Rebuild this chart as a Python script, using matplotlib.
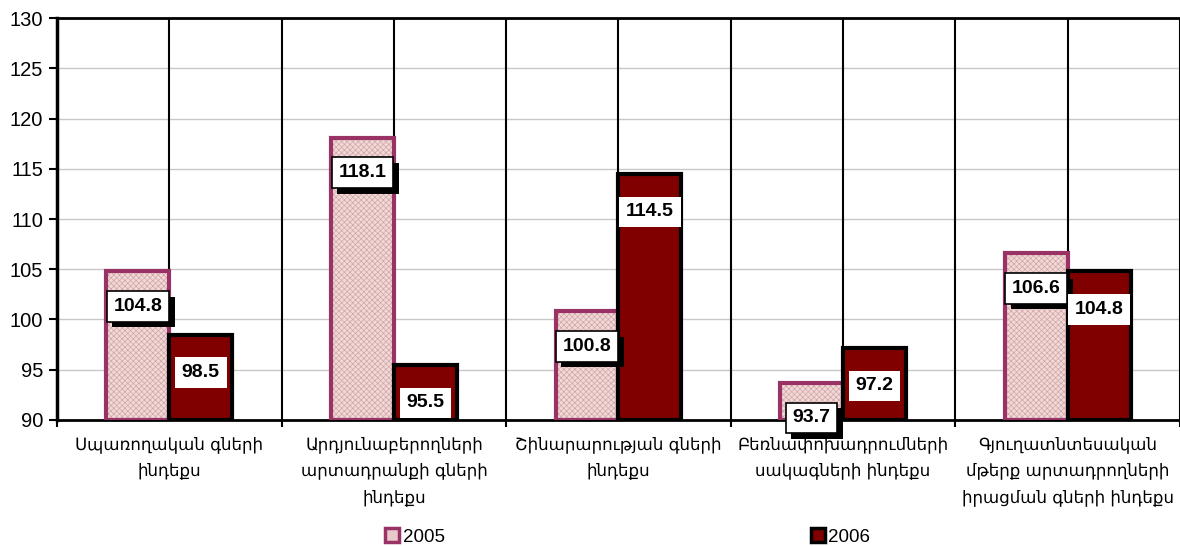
import numpy as np
import matplotlib
matplotlib.use("Agg")
import matplotlib.pyplot as plt
import matplotlib.patheffects as pe
from matplotlib.patches import Patch

categories = [
    "Սպառողական գների\nինդեքս",
    "Արդյունաբերողների\nարտադրանքի գների\nինդեքս",
    "Շինարարության գների\nինդեքս",
    "Բեռնափոխադրումների\nսակագների ինդեքս",
    "Գյուղատնտեսական\nմթերք արտադրողների\nիրացման գների ինդեքս",
]
values_2005 = [104.8, 118.1, 100.8, 93.7, 106.6]
values_2006 = [98.5, 95.5, 114.5, 97.2, 104.8]
series_names = ["2005", "2006"]
y_ticks = [90, 95, 100, 105, 110, 115, 120, 125, 130]

plt.rcParams['font.family'] = ['Liberation Sans', 'DejaVu Sans']
plt.rcParams['hatch.linewidth'] = 0.5

fig = plt.figure(figsize=(11.8, 5.46), dpi=100)
ax = fig.add_axes([0.0483, 0.2308, 0.9517, 0.7362])

x = np.arange(len(categories))
w = 0.28
base = 90

# 2005: hatched pink fill, then purple outline on top
ax.bar(x - w / 2, np.array(values_2005) - base, w, bottom=base,
       color='#f0d9d9', edgecolor='#d4a4a4', hatch='xxxxxx', linewidth=0, zorder=2)
ax.bar(x - w / 2, np.array(values_2005) - base, w, bottom=base,
       facecolor='none', edgecolor='#993366', linewidth=3, zorder=3)
ax.bar(x + w / 2, np.array(values_2006) - base, w, bottom=base,
       color='#800000', edgecolor='black', linewidth=3, zorder=3)

shadow = [pe.withSimplePatchShadow(offset=(4, -4), shadow_rgbFace='black', alpha=1)]
for xi, v in zip(x - w / 2, values_2005):
    t = ax.text(xi, v - 3.5, f"{v:.1f}", ha='center', va='center', fontsize=14,
                fontweight='bold', zorder=5,
                bbox=dict(boxstyle='square,pad=0.35', fc='white', ec='black', lw=1.2))
    t.get_bbox_patch().set_path_effects(shadow)
for xi, v in zip(x + w / 2, values_2006):
    ax.text(xi, v - 3.8, f"{v:.1f}", ha='center', va='center', fontsize=14,
            fontweight='bold', zorder=5,
            bbox=dict(boxstyle='square,pad=0.35', fc='white', ec='none'))

ax.set_xlim(-0.5, len(categories) - 0.5)
ax.set_ylim(90, 130)
ax.set_yticks(y_ticks)
ax.tick_params(axis='y', labelsize=14.5, length=6, width=1.5, direction='out', pad=4)

# vertical lines at category boundaries and centres
for xv in np.arange(-0.5, len(categories), 0.5)[1:]:
    ax.axvline(xv, color='black', lw=1.5, zorder=1)
for yv in y_ticks[1:-1]:
    ax.axhline(yv, color='#c8c8c8', lw=1, zorder=0)

ax.set_xticks(np.arange(-0.5, len(categories), 1.0))
ax.set_xticklabels([])
ax.tick_params(axis='x', length=5, width=1.5, direction='out')
ax.set_xticks(x, minor=True)
ax.set_xticklabels(categories, minor=True, fontsize=12,
                   family=['DejaVu Sans'], linespacing=1.6)
ax.tick_params(axis='x', which='minor', length=0, pad=11)

for s in ['left', 'bottom', 'top']:
    ax.spines[s].set_color('black')
ax.spines['left'].set_linewidth(2.5)
ax.spines['bottom'].set_linewidth(2)
ax.spines['top'].set_linewidth(2)
ax.spines['right'].set_visible(False)

handles = [
    Patch(facecolor='#e8c8c8', edgecolor='#993366', lw=2.5),
    Patch(facecolor='#800000', edgecolor='black', lw=2.5),
]
fig.legend(handles, series_names, loc='lower center', bbox_to_anchor=(0.532, -0.03),
           ncol=2, frameon=False, fontsize=13.5, handlelength=0.75, handleheight=0.75,
           handletextpad=0.2, columnspacing=19.5)

fig.savefig("out.png", dpi=100)
